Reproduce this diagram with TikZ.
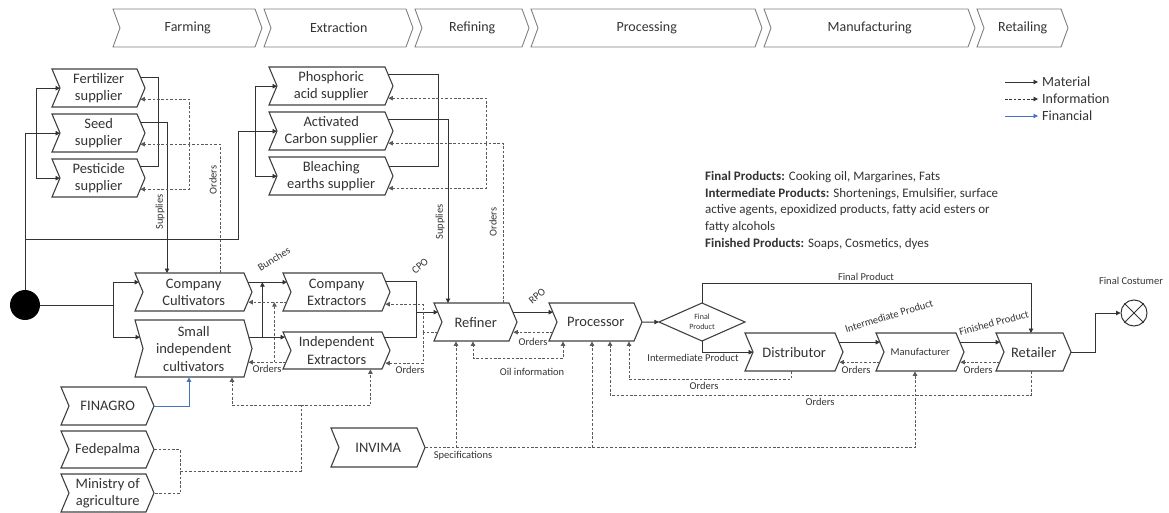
\documentclass[tikz,border=0pt]{standalone}
\usepackage{fontspec}
\setmainfont{Carlito}
\usetikzlibrary{calc,arrows.meta}

\definecolor{ink}{HTML}{333333}
\definecolor{frame}{HTML}{404040}
\definecolor{hdr}{HTML}{7F7F7F}
\definecolor{dashc}{HTML}{5A5A5A}
\definecolor{finblue}{HTML}{4472C4}

\tikzset{
  boxline/.style={draw=frame, line width=1.1pt, line join=miter},
  hdrline/.style={draw=hdr, line width=0.9pt, line join=miter},
  chevtext/.style={inner sep=0, anchor=north west, align=center, text=ink,
    font=\fontsize{14.5}{17.5}\selectfont},
  tip/.style={-{Triangle[length=4.5pt,width=4.5pt]}},
  link/.style={draw=ink, line width=0.9pt},
  mat/.style={link, tip},
  info/.style={draw=dashc, line width=0.9pt, dash pattern=on 2.6pt off 1.8pt},
  infoarr/.style={info, tip},
  infoboth/.style={info, {Triangle[length=4.5pt,width=4.5pt]}-{Triangle[length=4.5pt,width=4.5pt]}},
  fin/.style={draw=finblue, line width=0.9pt, tip},
  lbl/.style={font=\fontsize{10.5}{12}\selectfont, text=ink, inner sep=0},
  legendtext/.style={font=\fontsize{14}{16}\selectfont, text=ink, inner sep=0, anchor=west},
}

% chevron box: [notch depth]{name}{x1}{y1}{x2}{y2}{text}
\newcommand\chevbox[7][8]{%
  \draw[boxline] (#3,#4) -- ({#5-#1},#4) -- (#5,{(#4+#6)/2}) -- ({#5-#1},#6)
    -- (#3,#6) -- ({#3+#1},{(#4+#6)/2}) -- cycle;
  \node[chevtext, minimum width={(#5-#3)*1pt}, minimum height={(#6-#4)*1pt}] (#2) at (#3,#4) {#7};}

\begin{document}
\begin{tikzpicture}[x=1pt,y=-1pt]
\useasboundingbox (0,0) rectangle (1169,513);

% ---- stages along the top ----
\begin{scope}[boxline/.style={hdrline}, chevtext/.append style={font=\fontsize{14}{16}\selectfont}]
\chevbox[7]{hFarm}{113}{9}{262}{47}{Farming}
\chevbox[7]{hExtr}{264}{9}{413}{47}{Extraction}
\chevbox[7]{hRef}{415}{9}{529}{47}{Refining}
\chevbox[7]{hProc}{531}{9}{762}{47}{Processing}
\chevbox[7]{hManu}{764}{9}{975}{47}{Manufacturing}
\chevbox[7]{hRet}{977}{9}{1068}{47}{Retailing}
\end{scope}

% ---- actors ----
\chevbox{fert}{52}{69}{145}{107}{Fertilizer\\supplier}
\chevbox{seed}{52}{114}{145}{152}{Seed\\supplier}
\chevbox{pest}{52}{159}{145}{197}{Pesticide\\supplier}
\chevbox{phos}{269}{67}{393}{105}{Phosphoric\\acid supplier}
\chevbox{actc}{269}{112}{393}{150}{Activated\\Carbon supplier}
\chevbox{bleach}{269}{157}{393}{195}{Bleaching\\earths supplier}
\chevbox{ccult}{135}{273}{252}{311}{Company\\Cultivators}
\chevbox{scult}{135}{320}{252}{377}{Small\\independent\\cultivators}
\chevbox{cext}{283}{273}{390}{311}{Company\\Extractors}
\chevbox{iext}{283}{332}{390}{369}{Independent\\Extractors}
\chevbox{refiner}{434}{303}{517}{341}{Refiner}
\chevbox{processor}{549}{303}{642}{341}{Processor}
\chevbox{distributor}{745}{333}{843}{371}{Distributor}
\chevbox{manufacturer}{876}{333}{964}{371}{{\fontsize{10.5}{12}\selectfont Manufacturer}}
\chevbox{retailer}{996}{333}{1071}{371}{Retailer}
\chevbox{finagro}{61}{387}{154}{425}{FINAGRO}
\chevbox{fedep}{61}{431}{154}{468}{Fedepalma}
\chevbox{minag}{61}{474}{154}{512}{Ministry of\\agriculture}
\chevbox{invima}{331}{428}{425}{467}{INVIMA}

% decision diamond
\draw[boxline] (659,322) -- (702,303) -- (745,322) -- (702,341) -- cycle;
\node[inner sep=0, minimum width=86pt, minimum height=38pt, align=center, text=ink,
  font=\fontsize{8}{10}\selectfont] (fp) at (702,322) {Final\\Product};

% start and end points
\node[circle, fill=black, inner sep=0, minimum size=30pt] (start) at (25,305) {};
\node[circle, draw=ink, line width=1pt, inner sep=0, minimum size=26pt] (cust) at (1134,313) {};
\draw[link] (cust.north west) -- (cust.south east) (cust.north east) -- (cust.south west);

% ---- farming inputs ----
\draw[mat] (start.north) |- ($(seed.west)+(8,0)$);
\coordinate (jS) at ($(seed.west)+(-16,0)$);
\draw[mat] (jS) |- ($(fert.west)+(8,0)$);
\draw[mat] (jS) |- ($(pest.west)+(8,0)$);
\draw[link] ($(fert.east)+(-5,-11)$) -| ($(pest.east)+(13,-12)$) -- ($(pest.east)+(-5,-12)$);
\draw[mat] ($(seed.east)+(-5,-11)$) -| ($(ccult.north west)+(32,0)$);
\draw[infoarr] ($(ccult.north west)+(85,0)$) |- ($(seed.east)+(-5,11)$);
\coordinate (jO) at ($(seed.east)+(44,11)$);
\draw[infoarr] (jO) |- ($(fert.east)+(-5,11)$);
\draw[infoarr] (jO) |- ($(pest.east)+(-5,11)$);
\node[lbl, rotate=90] (lSupA) at (160,212) {Supplies};
\node[lbl, rotate=90] (lOrdA) at (213,180) {Orders};

% ---- refining inputs ----
\draw[mat] (start.north |- 0,239) -| ($(actc.west)+(-31,0)$) -- ($(actc.west)+(8,0)$);
\coordinate (jA) at ($(actc.west)+(-14,0)$);
\draw[mat] (jA) |- ($(phos.west)+(8,0)$);
\draw[mat] (jA) |- ($(bleach.west)+(8,0)$);
\draw[link] ($(phos.east)+(-5,-12)$) -| ($(bleach.east)+(45,-10)$) -- ($(bleach.east)+(-4,-10)$);
\draw[mat] ($(actc.east)+(-5,-12)$) -| ($(refiner.north west)+(14,0)$);
\draw[infoarr] ($(refiner.north west)+(69,0)$) |- ($(actc.east)+(-5,12)$);
\coordinate (jP) at ($(actc.east)+(93,12)$);
\draw[infoarr] (jP) |- ($(phos.east)+(-5,12)$);
\draw[infoarr] (jP) |- ($(bleach.east)+(-5,12)$);
\node[lbl, rotate=90] (lSupB) at (440,222) {Supplies};
\node[lbl, rotate=90] (lOrdB) at (493,222) {Orders};

% ---- cultivators ----
\coordinate (jC) at ($(start.east)+(73,0)$);
\draw[link] (start.east) -- (jC);
\draw[mat] (jC) |- ($(ccult.west)+(4,-10)$);
\draw[mat] (jC) |- ($(scult.west)+(5,-11.5)$);
\draw[fin] (finagro.east) -| ($(scult.south west)+(54,0)$);

% bunches to the extractors
\draw[mat] ($(ccult.east)+(-4,-10)$) -- ($(cext.west)+(4,-10)$);
\draw[mat] ($(scult.east)+(-3,-11.5)$) -- ($(iext.west)+(2,-13.5)$);
\draw[mat] ($(scult.east)+(10,-11.5)$) -- ($(ccult.east)+(10,-10)$);
\draw[infoarr] ($(cext.west)+(4,10)$) -- ($(ccult.east)+(-4,10)$);
\draw[infoarr] ($(iext.west)+(3,11.5)$) -- ($(scult.east)+(-4,13.5)$);
\draw[infoarr] ($(scult.east)+(22,13.5)$) -- ($(ccult.east)+(22,10)$);
\node[lbl, rotate=32] (lBun) at (274,259) {Bunches};
\node[lbl] (lOrdC) at (267,369) {Orders};

% sector bodies
\draw[info] (fedep.east) -| ($(minag.east)+(26,0)$) -- (minag.east);
\coordinate (jF) at ($(minag.east)+(26,-22)$);
\coordinate (jG) at ($(iext.south west)+(18,36)$);
\draw[info] (jF) -| (jG);
\draw[infoarr] (jG) -| ($(scult.south west)+(97,0)$);
\draw[infoarr] (jG) -| ($(iext.south east)+(-20,0)$);

% ---- crude palm oil to the refiner ----
\draw[link] ($(cext.east)+(-5,-11)$) -| ($(iext.east)+(26,-13.5)$) -- ($(iext.east)+(-6,-13.5)$);
\draw[mat] ($(refiner.west)+(-18,-10)$) -- ($(refiner.west)+(4,-10)$);
\coordinate (jR) at ($(refiner.west)+(-11,10)$);
\draw[info] ($(refiner.west)+(4,10)$) -- (jR);
\draw[infoarr] (jR) |- ($(cext.east)+(-5,12)$);
\draw[infoarr] (jR) |- ($(iext.east)+(-5,12.5)$);
\node[lbl, rotate=40] (lCPO) at (420,266) {CPO};
\node[lbl] (lOrdD) at (410,370) {Orders};

% ---- refiner and processor ----
\draw[mat] ($(refiner.east)+(-4,-10)$) -- ($(processor.west)+(4,-10)$);
\draw[infoarr] ($(processor.west)+(4,10)$) -- ($(refiner.east)+(-4,10)$);
\node[lbl, rotate=40] (lRPO) at (537,296) {RPO};
\node[lbl] (lOrdE) at (533,342) {Orders};
\draw[infoboth] ($(processor.south west)+(14,0)$) -- ($(processor.south west)+(14,17)$)
  -| ($(refiner.south west)+(39,0)$);
\node[lbl] (lOil) at (532,372) {Oil information};

% specifications from INVIMA
\coordinate (rIn) at ($(refiner.south west)+(22,0)$);
\coordinate (pIn) at ($(processor.south west)+(43,0)$);
\draw[infoarr] (invima.east) -| ($(manufacturer.south west)+(39,0)$);
\draw[infoarr] (rIn |- invima.east) -- (rIn);
\draw[infoarr] (pIn |- invima.east) -- (pIn);
\node[lbl] (lSpec) at (463,456) {Specifications};

% ---- products ----
\draw[mat] (processor.east) -- (fp.west);
\draw[mat] (fp.north) -- ++(0,-19) -| ($(retailer.north west)+(35,0)$);
\draw[mat] (fp.south) |- ($(distributor.west)+(8,0)$);
\node[lbl] (lFin) at (866,277) {Final Product};
\node[lbl] (lInt) at (693,358) {Intermediate Product};

\draw[mat] ($(distributor.east)+(-4,-10)$) -- ($(manufacturer.west)+(4,-10)$);
\draw[mat] ($(manufacturer.east)+(-4,-10)$) -- ($(retailer.west)+(4,-10)$);
\draw[infoarr] ($(manufacturer.west)+(4,10)$) -- ($(distributor.east)+(-4,10)$);
\draw[infoarr] ($(retailer.west)+(4,10)$) -- ($(manufacturer.east)+(-4,10)$);
\node[lbl, rotate=17] (lIntB) at (889,316) {Intermediate Product};
\node[lbl, rotate=15] (lFinished) at (994,323) {Finished Product};
\node[lbl] (lOrdF) at (856,370) {Orders};
\node[lbl] (lOrdG) at (978,370) {Orders};

% orders back to the processor
\draw[infoarr] ($(distributor.south west)+(46,0)$) -- ++(0,8) -| ($(processor.south west)+(80,0)$);
\draw[infoarr] ($(retailer.south west)+(35,0)$) -- ++(0,24) -| ($(processor.south west)+(61,0)$);
\node[lbl] (lOrdH) at (704,386) {Orders};
\node[lbl] (lOrdI) at (820,402) {Orders};

% to the final customer
\draw[mat] (retailer.east) -- ++(24,0) |- (cust.west);
\node[lbl] (lCust) at (1131,281) {Final Costumer};

% ---- product notes ----
\node[anchor=north west, align=left, inner sep=0, text=ink,
  font=\fontsize{13}{16.8}\selectfont] (notes) at (705,171)
  {\textbf{Final Products:} Cooking oil, Margarines, Fats\\
   \textbf{Intermediate Products:} Shortenings, Emulsifier, surface\\
   active agents, epoxidized products, fatty acid esters or\\
   fatty alcohols\\
   \textbf{Finished Products:} Soaps, Cosmetics, dyes};

% ---- legend ----
\coordinate (lgA) at (1005,82);
\coordinate (lgB) at (1005,99);
\coordinate (lgC) at (1005,116);
\draw[mat] (lgA) -- ++(33,0) coordinate (lgAe);
\draw[infoarr, draw=ink] (lgB) -- ++(33,0) coordinate (lgBe);
\draw[fin] (lgC) -- ++(33,0) coordinate (lgCe);
\node[legendtext] (lgMat) at ($(lgAe)+(4,0)$) {Material};
\node[legendtext] (lgInf) at ($(lgBe)+(4,0)$) {Information};
\node[legendtext] (lgFin) at ($(lgCe)+(4,0)$) {Financial};

\end{tikzpicture}
\end{document}
